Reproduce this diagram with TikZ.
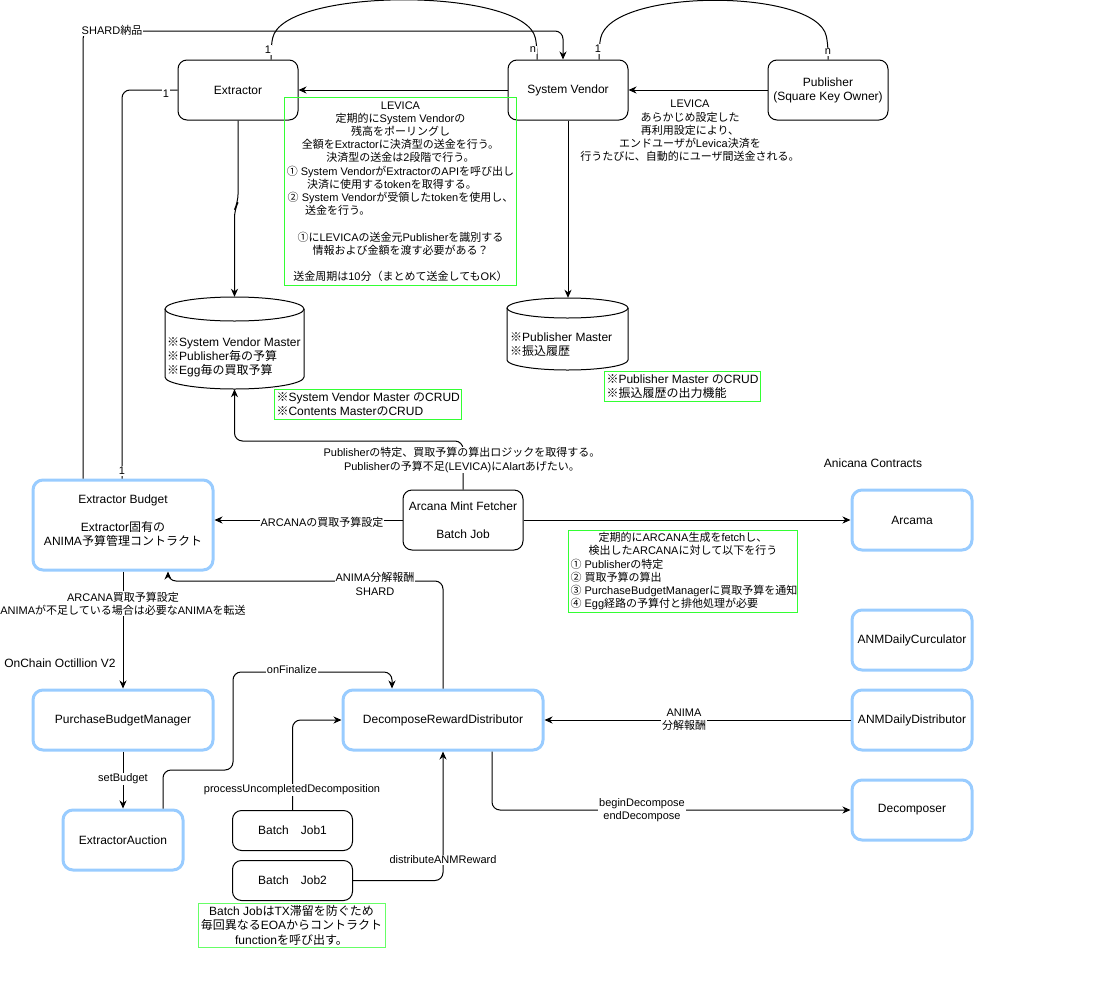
\documentclass[tikz,border=0pt]{standalone}
\usepackage{fontspec}
\usetikzlibrary{arrows.meta}
\setmainfont{Liberation Sans}
\newfontfamily\jpfont{Noto Sans CJK JP}
\newfontfamily\lafont{Liberation Sans}
\XeTeXinterchartokenstate=1
\newXeTeXintercharclass\jpclass
\newcount\jpcnt
\def\setjprange#1#2{\jpcnt=#1\relax
  \loop\XeTeXcharclass\jpcnt=\jpclass\relax
  \advance\jpcnt by 1\relax
  \ifnum\jpcnt<#2\relax\repeat}
\setjprange{"2460}{"2500}
\setjprange{"3000}{"A000}
\setjprange{"FF00}{"FFF0}
\XeTeXcharclass"203B=\jpclass
\XeTeXinterchartoks 0 \jpclass = {\jpfont}
\XeTeXinterchartoks 4095 \jpclass = {\jpfont}
\XeTeXinterchartoks \jpclass 0 = {\lafont}
\XeTeXinterchartoks \jpclass 4095 = {\lafont}
\definecolor{bluec}{HTML}{99CCFF}
\definecolor{greenc}{HTML}{33FF33}
\definecolor{greenl}{HTML}{66FF66}
\newcommand\fntA{\fontsize{12}{14}\selectfont}
\newcommand\fntB{\fontsize{11}{13.2}\selectfont}
\newcommand\fntC{\fontsize{12}{14.5}\selectfont}
\tikzset{
  box/.style={draw=black, line width=1pt, rounded corners=9pt, minimum width=120pt, minimum height=60pt, align=center, font=\fntA, inner sep=2pt},
  bbox/.style={draw=bluec, line width=3pt, rounded corners=10pt, minimum width=120pt, minimum height=60pt, align=center, font=\fntA, inner sep=2pt},
  note/.style={draw=greenc, line width=1pt, inner sep=2pt},
  lab/.style={fill=white, inner sep=1pt, align=center, font=\fntB},
  txt/.style={inner sep=0pt, align=center, font=\fntB},
  cylbox/.style={draw=none, inner sep=0pt},
  con/.style={line width=1pt, rounded corners=8pt},
  arr/.style={con, -{Stealth[length=8pt,width=7pt,inset=2.5pt]}},
}
\begin{document}
\begin{tikzpicture}[x=1pt,y=-1pt]
\path[use as bounding box] (0,0) rectangle (1093,983);

% ---------- top row
\node[box] (ext) at (238,90) {Extractor};
\node[box] (sv) at (568,90) {System Vendor};
\node[box] (pub) at (828,90) {Publisher\\(Square Key Owner)};

\node[note, anchor=north west, minimum width=232pt, minimum height=188pt, align=center, font=\fntB] (levica) at (284,97)
{LEVICA\\定期的にSystem Vendorの\\残高をポーリングし\\全額をExtractorに決済型の送金を行う。\\決済型の送金は2段階で行う。\\① System VendorがExtractorのAPIを呼び出し\\\makebox[225pt][l]{\hspace{19pt}決済に使用するtokenを取得する。}\\② System Vendorが受領したtokenを使用し、\\\makebox[225pt][l]{\hspace{17pt}送金を行う。}\\ \\①にLEVICAの送金元Publisherを識別する\\情報および金額を渡す必要がある？\\ \\送金周期は10分（まとめて送金してもOK）};

\node[txt] (levlab) at (690,131) {LEVICA\\あらかじめ設定した\\再利用設定により、\\エンドユーザがLevica決済を\\行うたびに、自動的にユーザ間送金される。};

% ---------- cylinders
\node[cylbox, minimum width=139pt, minimum height=92pt] (svm) at (234.5,343) {};
\draw[line width=1pt] (165,309) -- (165,377) arc[start angle=180,end angle=0,x radius=69.5,y radius=12] -- (304,309);
\draw[line width=1pt] (234.5,309) ellipse[x radius=69.5,y radius=12];
\node[anchor=west, align=left, font=\fntA, inner sep=0pt] (svmtext) at (167,357) {※System Vendor Master\\※Publisher毎の予算\\※Egg毎の買取予算};

\node[cylbox, minimum width=121pt, minimum height=72pt] (pm) at (567.5,334) {};
\draw[line width=1pt] (507,308) -- (507,360) arc[start angle=180,end angle=0,x radius=60.5,y radius=10] -- (628,308);
\draw[line width=1pt] (567.5,308) ellipse[x radius=60.5,y radius=10];
\node[anchor=west, align=left, font=\fntA, inner sep=0pt] (pmtext) at (510,345) {※Publisher Master\\※振込履歴};

\node[note, anchor=north west, minimum width=185pt, minimum height=30pt, align=left, font=\fntA] (crud1) at (274,389) {※System Vendor Master のCRUD\\※Contents MasterのCRUD};
\node[note, anchor=north west, minimum width=153pt, minimum height=30pt, align=left, font=\fntA] (crud2) at (604,371) {※Publisher Master のCRUD\\※振込履歴の出力機能};

% ---------- middle
\node[bbox, minimum width=180pt, minimum height=90pt] (eb) at (123,525) {};
\node[align=center, font=\fntA, inner sep=0pt] (ebtext) at (123,521) {Extractor Budget\\ \\Extractor固有の\\ANIMA予算管理コントラクト};
\node[box] (amf) at (463,520) {Arcana Mint Fetcher\\ \\Batch Job};
\node[font=\fntA, inner sep=0pt] (anicana) at (873,463) {Anicana Contracts};
\node[bbox] (arc) at (912,520) {Arcama};
\node[note, anchor=north west, minimum width=229pt, minimum height=80pt, align=center, font=\fntB] (arcnote) at (568,530)
{定期的にARCANA生成をfetchし、\\検出したARCANAに対して以下を行う\\\makebox[225pt][l]{① Publisherの特定}\\\makebox[225pt][l]{② 買取予算の算出}\\\makebox[225pt][l]{③ PurchaseBudgetManagerに買取予算を通知}\\\makebox[225pt][l]{④ Egg経路の予算付と排他処理が必要}};

\node[bbox] (anmdc) at (912,640) {ANMDailyCurculator};
\node[bbox] (anmdd) at (912,720) {ANMDailyDistributor};
\node[bbox] (dec) at (912,810) {Decomposer};

% ---------- bottom
\node[font=\fntA, inner sep=0pt] (onchain) at (60,663) {OnChain Octillion V2};
\node[bbox, minimum width=180pt] (pbm) at (123,720) {PurchaseBudgetManager};
\node[bbox] (ea) at (123,840) {ExtractorAuction};
\node[bbox, minimum width=200pt] (drd) at (443,720) {DecomposeRewardDistributor};
\node[box, minimum height=40pt] (bj1) at (292.5,830.5) {Batch　Job1};
\node[box, minimum height=40pt] (bj2) at (292.5,880.5) {Batch　Job2};
\node[draw=greenl, line width=1pt, minimum width=187pt, minimum height=44pt, align=center, font=\fntC, inner sep=1pt] (bjnote) at (291.5,925) {Batch JobはTX滞留を防ぐため\\毎回異なるEOAからコントラクト\\functionを呼び出す。};

% ---------- connectors (top)
\draw[arr] (sv.west) -- (ext.east);
\draw[arr] (pub.west) -- (sv.east);
\draw[con] ([xshift=33pt]ext.north) -- (271,46) .. controls (283,-13) and (525,-13) .. (537,46) -- ([xshift=-31pt]sv.north);
\draw[con] ([xshift=31pt]sv.north) -- (599,46) .. controls (611,-12) and (816,-12) .. (828,44) -- (pub.north);
\draw[arr] ([xshift=-40pt]eb.north) -- (83,31) -- (563,31) -- ([xshift=-5pt]sv.north);
\draw[con] (ext.west) -- (122,90) -- ([xshift=-1pt]eb.north);
\draw[arr] (ext.south) -- ++(0,82) -- ++(-3.5,7) -- (svm.north);
\draw[arr] (sv.south) -- (sv.south |- pm.north);
\draw[arr] (amf.north) -- (463,441) -- (234.5,441) -- (svm.south);

% ---------- connectors (middle/bottom)
\draw[arr] (amf.west) -- (amf.west -| eb.east);
\draw[arr] (amf.east) -- (arc.west);
\draw[arr] (eb.south) -- (pbm.north);
\draw[arr] (pbm.south) -- (ea.north);
\draw[arr] ([xshift=40pt]ea.north) -- (163,770) -- (233,770) -- (233,672) -- (392,672) -- ([xshift=-51pt]drd.north);
\draw[arr] (bj1.north) |- (drd.west);
\draw[arr] (bj2.east) -| (drd.south);
\draw[arr] (drd.north) -- (443,581) -- (168,581) -- ([xshift=45pt]eb.south);
\draw[arr] (anmdd.west) -- (drd.east);
\draw[arr] ([xshift=49pt]drd.south) |- (dec.west);

% ---------- labels
\node[lab] (l1a) at (268,50) {1};
\node[lab] (lna) at (533,50) {n};
\node[lab] (l1b) at (598,49) {1};
\node[lab] (lnb) at (828,52) {n};
\node[lab] (shard) at (112,30) {SHARD納品};
\node[lab] (l1c) at (166,94) {1};
\node[lab] (l1d) at (122,471) {1};
\node[lab] (pubspec) at (462,460) {Publisherの特定、買取予算の算出ロジックを取得する。\\Publisherの予算不足(LEVICA)にAlartあげたい。};
\node[lab] (arcset) at (322,522) {ARCANAの買取予算設定};
\node[lab] (ebpbm) at (123,603.5) {ARCANA買取予算設定\\ANIMAが不足している場合は必要なANIMAを転送};
\node[lab] (setb) at (123,779) {setBudget};
\node[lab] (onfin) at (292,670) {onFinalize};
\node[lab] (puc) at (292,790) {processUncompletedDecomposition};
\node[lab] (dist) at (443,860) {distributeANMReward};
\node[lab] (anima1) at (375,584) {ANIMA分解報酬\\SHARD};
\node[lab] (anima2) at (684,720) {ANIMA\\分解報酬};
\node[lab] (bdec) at (642,810) {beginDecompose\\endDecompose};
\end{tikzpicture}
\end{document}
